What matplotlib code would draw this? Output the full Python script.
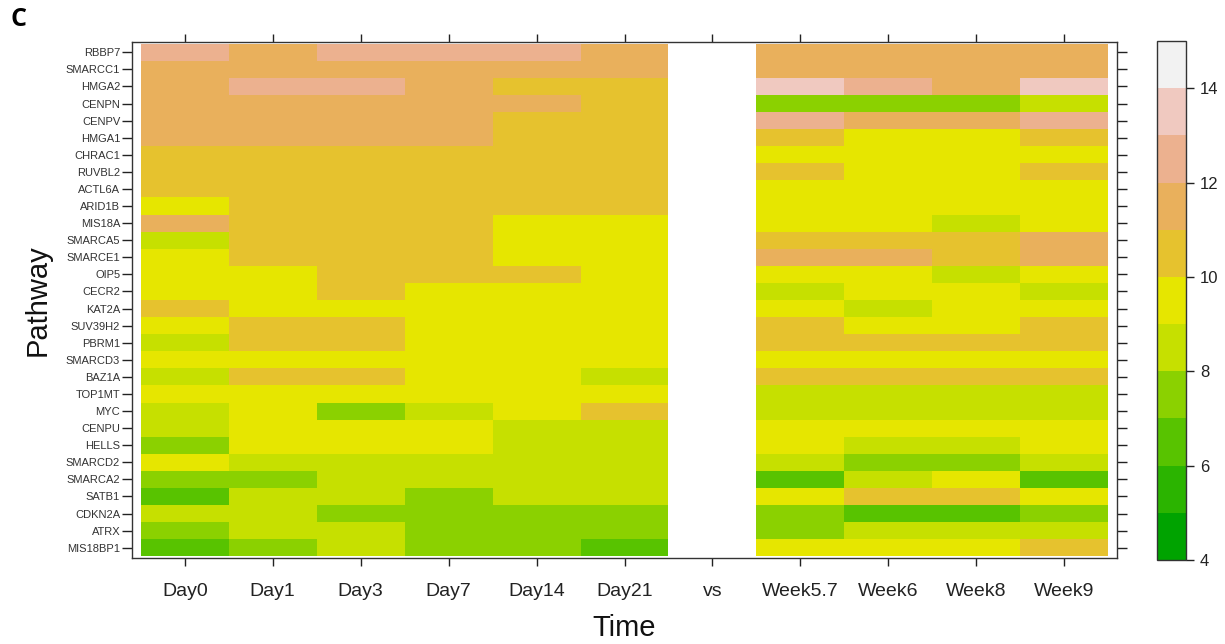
import numpy as np
import matplotlib
matplotlib.use("Agg")
import matplotlib.pyplot as plt
from matplotlib.colors import ListedColormap, BoundaryNorm

plt.rcParams["font.family"] = ["Liberation Sans", "DejaVu Sans"]

# Genes, listed from top row to bottom row
genes = ["RBBP7", "SMARCC1", "HMGA2", "CENPN", "CENPV", "HMGA1", "CHRAC1",
         "RUVBL2", "ACTL6A", "ARID1B", "MIS18A", "SMARCA5", "SMARCE1", "OIP5",
         "CECR2", "KAT2A", "SUV39H2", "PBRM1", "SMARCD3", "BAZ1A", "TOP1MT",
         "MYC", "CENPU", "HELLS", "SMARCD2", "SMARCA2", "SATB1", "CDKN2A",
         "ATRX", "MIS18BP1"]

time_points = ["Day0", "Day1", "Day3", "Day7", "Day14", "Day21", "vs",
               "Week5.7", "Week6", "Week8", "Week9"]

# Expression level per gene (same order as `genes`) at each time point
day0 = [12.4, 11.6, 11.5, 11.4, 11.5, 11.6, 10.6, 10.5, 10.4, 9.7, 11.2, 8.6, 9.5, 9.6, 9.4,
        10.3, 9.5, 8.7, 9.4, 8.6, 9.5, 8.5, 8.4, 7.7, 9.3, 7.6, 6.8, 8.3, 7.5, 6.7]
day1 = [11.7, 11.5, 12.3, 11.6, 11.5, 11.4, 10.7, 10.6, 10.5, 10.4, 10.5, 10.3, 10.2, 9.8, 9.6,
        9.5, 10.4, 10.5, 9.4, 10.3, 9.5, 9.3, 9.6, 9.4, 8.8, 7.9, 8.6, 8.5, 8.4, 7.6]
day3 = [12.2, 11.5, 12.2, 11.6, 11.4, 11.3, 10.8, 10.6, 10.5, 10.6, 10.4, 10.5, 10.3, 10.2, 10.1,
        9.7, 10.3, 10.4, 9.5, 10.2, 9.6, 7.8, 9.5, 9.4, 8.7, 8.5, 8.3, 7.6, 8.4, 8.6]
day7 = [12.1, 11.6, 11.8, 11.5, 11.4, 11.2, 10.7, 10.6, 10.5, 10.5, 10.4, 10.3, 10.2, 10.1, 9.8,
        9.7, 9.6, 9.5, 9.4, 9.5, 9.3, 8.8, 9.4, 9.2, 8.5, 8.4, 7.8, 7.6, 7.5, 7.7]
day14 = [12.2, 11.4, 10.9, 11.1, 10.8, 10.7, 10.6, 10.5, 10.4, 10.3, 9.9, 9.8, 9.7, 10.1, 9.6,
         9.5, 9.4, 9.5, 9.6, 9.3, 9.4, 9.2, 8.9, 8.8, 8.6, 8.5, 8.4, 7.9, 7.7, 7.6]
day21 = [11.3, 11.1, 10.9, 10.8, 10.7, 10.6, 10.5, 10.4, 10.3, 10.2, 9.9, 9.8, 9.7, 9.6, 9.5,
         9.4, 9.5, 9.6, 9.3, 8.9, 9.2, 10.1, 8.8, 8.7, 8.6, 8.5, 8.4, 7.8, 7.5, 6.9]
vs_gap = [np.nan] * len(genes)   # empty separator column
wk5_7 = [11.5, 11.6, 13.3, 7.8, 12.3, 10.6, 9.7, 10.4, 9.6, 9.5, 9.4, 10.5, 11.2, 9.5, 8.8,
         9.6, 10.7, 10.6, 9.4, 10.5, 8.6, 8.5, 9.5, 9.3, 8.4, 6.8, 9.6, 7.6, 7.4, 9.5]
wk6 = [11.4, 11.5, 12.4, 7.7, 11.6, 9.8, 9.7, 9.6, 9.5, 9.6, 9.4, 10.6, 11.1, 9.5, 9.3,
       8.8, 9.6, 10.5, 9.5, 10.4, 8.6, 8.5, 9.4, 8.7, 7.8, 8.3, 10.4, 6.7, 8.4, 9.4]
wk8 = [11.5, 11.4, 11.5, 7.6, 11.3, 9.7, 9.6, 9.5, 9.4, 9.5, 8.9, 10.8, 10.9, 8.8, 9.4,
       9.5, 9.7, 10.6, 9.4, 10.5, 8.6, 8.4, 9.5, 8.7, 7.7, 9.3, 10.3, 6.6, 8.5, 9.3]
wk9 = [11.6, 11.5, 13.4, 8.6, 12.2, 10.5, 9.6, 10.6, 9.5, 9.4, 9.5, 11.7, 11.6, 9.6, 8.7,
       9.5, 10.6, 10.4, 9.3, 10.5, 8.5, 8.4, 9.6, 9.4, 8.5, 6.7, 9.5, 7.7, 8.6, 10.4]

# Colour scale: 11 bands from 4 to 15 (green -> yellow -> tan -> light grey)
level_edges = [4, 5, 6, 7, 8, 9, 10, 11, 12, 13, 14, 15]
band_colors = ["#00A300", "#2BB400", "#58C300", "#8BD100", "#C6E000", "#E6E600",
               "#E6C22E", "#E9B05C", "#ECB18F", "#F0C9C0", "#F2F2F2"]
cbar_ticks = [4, 6, 8, 10, 12, 14]

values = np.column_stack([day0, day1, day3, day7, day14, day21, vs_gap,
                          wk5_7, wk6, wk8, wk9])
values = np.ma.masked_invalid(values)

cmap = ListedColormap(band_colors)
cmap.set_bad("white")
norm = BoundaryNorm(level_edges, cmap.N)

W, H = 1225, 644
fig = plt.figure(figsize=(W / 100, H / 100), dpi=100)
ax = fig.add_axes([132 / W, 86 / H, 985 / W, 516 / H])

n_cols = len(time_points)
n_rows = len(genes)
mesh = ax.pcolormesh(np.arange(n_cols + 1) - 0.5, np.arange(n_rows + 1) - 0.5, values,
                     cmap=cmap, norm=norm, edgecolors="face", linewidth=0,
                     antialiased=False)
ax.set_xlim(-0.6, n_cols - 0.4)
ax.set_ylim(n_rows - 0.4, -0.6)

ax.set_xticks(range(n_cols))
ax.set_xticklabels(time_points, fontsize=14, color="#222222")
ax.set_yticks(range(n_rows))
ax.set_yticklabels(genes, fontsize=8, color="#333333")
ax.tick_params(axis="x", bottom=True, top=True, labeltop=False, direction="out",
               length=6, width=1.0, pad=12, color="#222222")
ax.tick_params(axis="y", left=True, right=True, labelright=False, direction="out",
               length=7, width=1.0, pad=1.5, color="#222222")
for sp in ax.spines.values():
    sp.set_linewidth(1.0)
    sp.set_color("#333333")

# Colour key
cax = fig.add_axes([1157 / W, 84 / H, 29 / W, 519 / H])
cb = fig.colorbar(mesh, cax=cax, ticks=cbar_ticks)
cb.minorticks_off()
cb.outline.set_linewidth(1.0)
cb.outline.set_edgecolor("#333333")
cax.tick_params(which="major", length=6, width=1.0, labelsize=12, pad=4,
                color="#222222", labelcolor="#222222")

fig.text(38 / W, 1 - 300 / H, "Pathway", rotation=90, fontsize=21,
         ha="center", va="center", color="#111111")
fig.text(624.5 / W, 1 - 628 / H, "Time", fontsize=21, ha="center", va="center",
         color="#111111")
fig.text(10 / W, 1 - 19 / H, "C", fontsize=18, fontweight="bold",
         family=["Open Sans", "DejaVu Sans"], ha="left", va="center")

fig.savefig("out.png", dpi=100)
